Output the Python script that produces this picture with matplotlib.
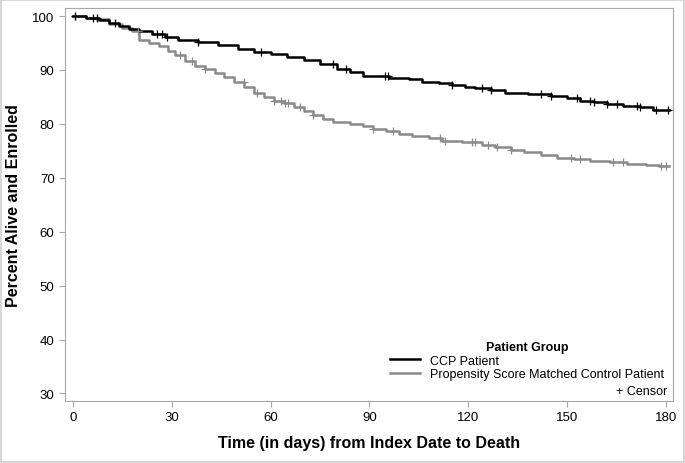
import numpy as np
import matplotlib
matplotlib.use('Agg')
import matplotlib.pyplot as plt
from matplotlib.lines import Line2D

plt.rcParams['font.family'] = ['Liberation Sans', 'DejaVu Sans']

# Kaplan-Meier step curves (day, percent)
ccp_days = [0, 4, 8, 11, 14, 17, 20, 24, 28, 32, 38, 44, 50, 55, 60, 65, 70, 75, 80,
            84, 88, 96, 102, 106, 111, 115, 119, 122, 127, 131, 138, 145, 150, 154,
            158, 162, 167, 172, 176, 181]
ccp_pct = [100, 99.6, 99.3, 98.7, 98.1, 97.6, 97.2, 96.6, 96.1, 95.6, 95.2, 94.7, 93.9,
           93.4, 93.0, 92.4, 91.9, 91.1, 90.2, 89.6, 88.8, 88.6, 88.4, 87.8, 87.6, 87.3,
           86.9, 86.6, 86.2, 85.8, 85.5, 85.2, 84.8, 84.2, 84.0, 83.7, 83.4, 83.2, 82.6, 82.6]

ctl_days = [0, 4, 7, 11, 15, 18, 20, 23, 26, 29, 31, 34, 37, 40, 43, 46, 49, 52, 55, 58,
            61, 64, 67, 70, 73, 76, 79, 84, 88, 91, 95, 99, 103, 108, 112, 118, 124, 128,
            133, 137, 142, 147, 152, 157, 163, 168, 174, 178, 181]
ctl_pct = [100, 99.7, 99.4, 98.6, 97.8, 97.3, 95.6, 95.0, 94.4, 93.5, 92.7, 91.6, 90.8,
           90.2, 89.5, 88.7, 87.8, 86.8, 85.8, 85.0, 84.3, 83.8, 83.2, 82.4, 81.7, 81.0,
           80.3, 79.9, 79.6, 79.1, 78.7, 78.2, 77.8, 77.3, 76.9, 76.6, 76.0, 75.7, 75.1,
           74.8, 74.3, 73.7, 73.4, 73.2, 72.9, 72.6, 72.4, 72.2, 72.2]

# censored observation times
ccp_cens = [0.5, 6, 7.3, 12.8, 25.4, 27, 28.5, 38, 57, 79, 83, 94.8, 95.7, 115, 124, 127,
            142, 145, 153, 157, 158, 162, 165, 171.3, 172, 177, 180.5]
ctl_cens = [0.5, 19.8, 32.5, 36, 40, 51.8, 56, 61, 63, 64.5, 65.4, 69, 73, 91, 97, 111.3,
            113, 121, 122, 126, 128.8, 133, 151, 154, 164, 167, 178.4, 180]

black = '#000000'
gray = '#8a8a8a'


def step_value(days, pct, t):
    i = np.searchsorted(days, t, side='right') - 1
    return np.array(pct)[i]


fig = plt.figure(figsize=(6.85, 4.64), dpi=100)
fig.patches.append(plt.Rectangle((0.002, 0.002), 0.996, 0.996, transform=fig.transFigure,
                                 fill=False, edgecolor='#d0d0d0', linewidth=1.2))
ax = fig.add_axes([65 / 685, 1 - 402 / 464, 608 / 685, 393 / 464])

ax.plot(ctl_days, ctl_pct, drawstyle='steps-post', color=gray, lw=1.8)
ax.plot(ccp_days, ccp_pct, drawstyle='steps-post', color=black, lw=1.8)
ax.plot(ctl_cens, step_value(ctl_days, ctl_pct, ctl_cens), '+', color=gray, ms=6, mew=0.9)
ax.plot(ccp_cens, step_value(ccp_days, ccp_pct, ccp_cens), '+', color=black, ms=6, mew=0.9)

ax.set_xlim(-2.4, 182.1)
ax.set_ylim(28.6, 101.5)
ax.set_xticks([0, 30, 60, 90, 120, 150, 180])
ax.set_yticks([30, 40, 50, 60, 70, 80, 90, 100])
for s in ax.spines.values():
    s.set_color('#a8a8a8')
ax.tick_params(colors='#a8a8a8', labelcolor='black', labelsize=9.5, length=4)
ax.set_xlabel('Time (in days) from Index Date to Death', fontsize=11.5, fontweight='bold',
              labelpad=8)
ax.set_ylabel('Percent Alive and Enrolled', fontsize=11.5, fontweight='bold', labelpad=8)

handles = [Line2D([], [], color=black, lw=1.8), Line2D([], [], color=gray, lw=1.8)]
leg = ax.legend(handles, ['CCP Patient', 'Propensity Score Matched Control Patient'],
                title='Patient Group', loc='lower right', bbox_to_anchor=(1.0, 0.03),
                frameon=False, fontsize=9, handlelength=2.4, handletextpad=0.8,
                labelspacing=0.15, borderaxespad=0.3)
leg.get_title().set_fontweight('bold')
leg.get_title().set_fontsize(9)
ax.text(0.99, 0.025, '+ Censor', transform=ax.transAxes, ha='right', va='center', fontsize=9)

fig.savefig('out.png', dpi=100)
